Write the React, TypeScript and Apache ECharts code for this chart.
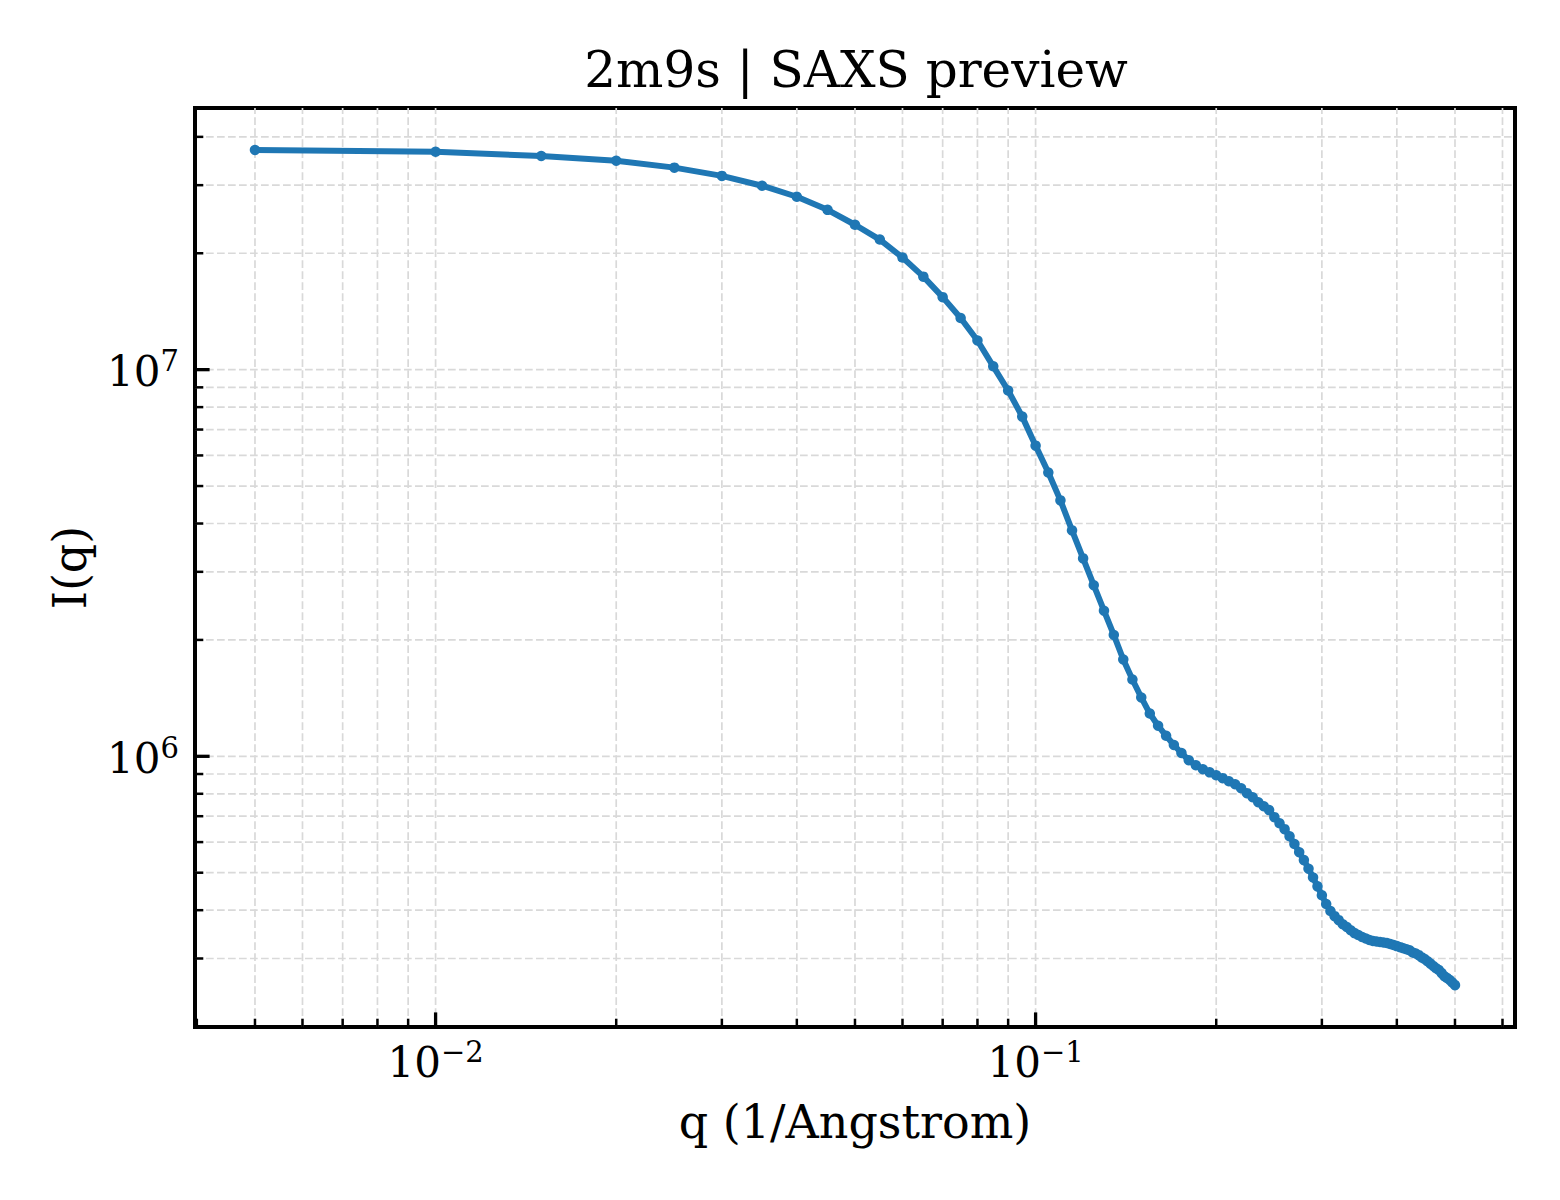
import React, { useEffect, useRef } from 'react';
import * as echarts from 'echarts';

// q grid (1/Angstrom)
const qValues = [
  0.005, 0.01, 0.015, 0.02, 0.025, 0.03, 0.035, 0.04, 0.045, 0.05,
  0.055, 0.06, 0.065, 0.07, 0.075, 0.08, 0.085, 0.09, 0.095, 0.1,
  0.105, 0.11, 0.115, 0.12, 0.125, 0.13, 0.135, 0.14, 0.145, 0.15,
  0.155, 0.16, 0.165, 0.17, 0.175, 0.18, 0.185, 0.19, 0.195, 0.2,
  0.205, 0.21, 0.215, 0.22, 0.225, 0.23, 0.235, 0.24, 0.245, 0.25,
  0.255, 0.26, 0.265, 0.27, 0.275, 0.28, 0.285, 0.29, 0.295, 0.3,
  0.305, 0.31, 0.315, 0.32, 0.325, 0.33, 0.335, 0.34, 0.345, 0.35,
  0.355, 0.36, 0.365, 0.37, 0.375, 0.38, 0.385, 0.39, 0.395, 0.4,
  0.405, 0.41, 0.415, 0.42, 0.425, 0.43, 0.435, 0.44, 0.445, 0.45,
  0.455, 0.46, 0.465, 0.47, 0.475, 0.48, 0.485, 0.49, 0.495, 0.5,
];

// I(q)
const intensity = [
  3.70e7, 3.66e7, 3.57e7, 3.47e7, 3.33e7, 3.17e7, 2.99e7, 2.80e7, 2.59e7, 2.37e7,
  2.17e7, 1.95e7, 1.74e7, 1.54e7, 1.36e7, 1.19e7, 1.02e7, 8.83e6, 7.56e6, 6.36e6,
  5.42e6, 4.59e6, 3.84e6, 3.25e6, 2.77e6, 2.38e6, 2.06e6, 1.78e6, 1.58e6, 1.42e6,
  1.29e6, 1.20e6, 1.13e6, 1.07e6, 1.02e6, 9.77e5, 9.48e5, 9.26e5, 9.09e5, 8.93e5,
  8.78e5, 8.62e5, 8.47e5, 8.27e5, 8.03e5, 7.84e5, 7.61e5, 7.43e5, 7.26e5, 6.96e5,
  6.71e5, 6.48e5, 6.21e5, 5.93e5, 5.65e5, 5.39e5, 5.12e5, 4.86e5, 4.61e5, 4.37e5,
  4.15e5, 3.98e5, 3.86e5, 3.77e5, 3.68e5, 3.62e5, 3.55e5, 3.49e5, 3.45e5, 3.41e5,
  3.38e5, 3.35e5, 3.33e5, 3.32e5, 3.31e5, 3.30e5, 3.29e5, 3.27e5, 3.25e5, 3.23e5,
  3.21e5, 3.19e5, 3.17e5, 3.15e5, 3.11e5, 3.09e5, 3.06e5, 3.02e5, 2.99e5, 2.95e5,
  2.91e5, 2.87e5, 2.83e5, 2.80e5, 2.75e5, 2.70e5, 2.67e5, 2.64e5, 2.60e5, 2.56e5,
];

const xMajorTicks = [0.01, 0.1];
const xMinorTicks = [
  0.004, 0.005, 0.006, 0.007, 0.008, 0.009,
  0.02, 0.03, 0.04, 0.05, 0.06, 0.07, 0.08, 0.09,
  0.2, 0.3, 0.4, 0.5, 0.6,
];
const yMajorTicks = [1e6, 1e7];
const yMinorTicks = [
  2e5, 3e5, 4e5, 5e5, 6e5, 7e5, 8e5, 9e5,
  2e6, 3e6, 4e6, 5e6, 6e6, 7e6, 8e6, 9e6,
  2e7, 3e7, 4e7,
];

const FONT = '"DejaVu Serif", serif';
const GRID_COLOR = '#d9d9d9';

const powerLabel = (v: number) => {
  const lg = Math.log10(v);
  const e = Math.round(lg);
  if (Math.abs(lg - e) > 1e-6) return '';
  const exp = e < 0 ? '\u2212' + -e : String(e);
  return `{b|10}{s|${exp}}`;
};

const labelRich = {
  b: { fontSize: 42, fontFamily: FONT, color: '#000', padding: [4, 0, 0, 0] },
  s: { fontSize: 29, fontFamily: FONT, color: '#000', verticalAlign: 'top', lineHeight: 29 },
};

const App: React.FC = () => {
  const chartRef = useRef<HTMLDivElement>(null);

  useEffect(() => {
    if (!chartRef.current) return;
    const chart = echarts.init(chartRef.current, undefined, { renderer: 'svg' });

    // [x, y, axis (0 = x, 1 = y), major]
    const tickData = [
      ...xMajorTicks.map(v => [v, 1e6, 0, 1]),
      ...xMinorTicks.map(v => [v, 1e6, 0, 0]),
      ...yMajorTicks.map(v => [0.01, v, 1, 1]),
      ...yMinorTicks.map(v => [0.01, v, 1, 0]),
    ];

    const option = {
      animation: false,
      backgroundColor: '#fff',
      title: {
        text: '2m9s | SAXS preview',
        left: 851,
        top: 40,
        textAlign: 'center',
        textStyle: { fontFamily: FONT, fontSize: 50, fontWeight: 'normal', color: '#000' },
      },
      grid: {
        left: 195,
        top: 108,
        width: 1320,
        height: 919,
        show: true,
        borderColor: '#000',
        borderWidth: 4,
        backgroundColor: '#fff',
      },
      xAxis: {
        type: 'log',
        logBase: 10,
        min: 0.003972,
        max: 0.6295,
        name: 'q (1/Angstrom)',
        nameLocation: 'middle',
        nameGap: 72,
        nameTextStyle: { fontFamily: FONT, fontSize: 46, color: '#000' },
        axisLine: { show: false },
        axisTick: { show: false },
        splitLine: { show: false },
        minorTick: { show: false },
        axisLabel: {
          margin: 10,
          formatter: powerLabel,
          rich: labelRich,
          showMinLabel: true,
          showMaxLabel: true,
        },
      },
      yAxis: {
        type: 'log',
        logBase: 10,
        min: 1.995e5,
        max: 4.75e7,
        name: 'I(q)',
        nameLocation: 'middle',
        nameGap: 102,
        nameRotate: 90,
        nameTextStyle: { fontFamily: FONT, fontSize: 46, color: '#000' },
        axisLine: { show: false },
        axisTick: { show: false },
        splitLine: { show: false },
        axisLabel: {
          margin: 16,
          formatter: powerLabel,
          rich: labelRich,
        },
      },
      series: [
        {
          type: 'custom',
          silent: true,
          z: 1,
          clip: false,
          data: tickData,
          renderItem: (params: any, api: any) => {
            const cs = params.coordSys;
            const axis = api.value(2);
            const major = api.value(3) === 1;
            const len = major ? 14.6 : 8.3;
            const tw = major ? 3.3 : 2.5;
            const pt = api.coord([api.value(0), api.value(1)]);
            const grid = { stroke: GRID_COLOR, lineWidth: 1.7, lineDash: [7.7, 3.3] };
            const tick = { stroke: '#000', lineWidth: tw };
            const children: any[] = [];
            if (axis === 0) {
              const px = pt[0];
              const bottom = cs.y + cs.height;
              // gridlines sitting on the spine are hidden under it
              if (px - cs.x > 3 && cs.x + cs.width - px > 3) {
                children.push({ type: 'line', shape: { x1: px, y1: bottom, x2: px, y2: cs.y }, style: grid });
              }
              children.push({ type: 'line', z2: 10, shape: { x1: px, y1: bottom, x2: px, y2: bottom - len }, style: tick });
            } else {
              const py = pt[1];
              if (py - cs.y > 3 && cs.y + cs.height - py > 3) {
                children.push({ type: 'line', shape: { x1: cs.x, y1: py, x2: cs.x + cs.width, y2: py }, style: grid });
              }
              children.push({ type: 'line', z2: 10, shape: { x1: cs.x, y1: py, x2: cs.x + len, y2: py }, style: tick });
            }
            return { type: 'group', children };
          },
        },
        {
          name: 'I(q)',
          type: 'line',
          z: 3,
          data: qValues.map((q, i) => [q, intensity[i]]),
          symbol: 'circle',
          symbolSize: 10.5,
          showSymbol: true,
          lineStyle: { width: 6, color: '#1f77b4' },
          itemStyle: { color: '#1f77b4' },
        },
      ],
    };

    chart.setOption(option);

    return () => {
      chart.dispose();
    };
  }, []);

  return (
    <div
      ref={chartRef}
      style={{ position: 'absolute', left: 0, top: 0, width: '1560px', height: '1200px' }}
    />
  );
};

export default App;
